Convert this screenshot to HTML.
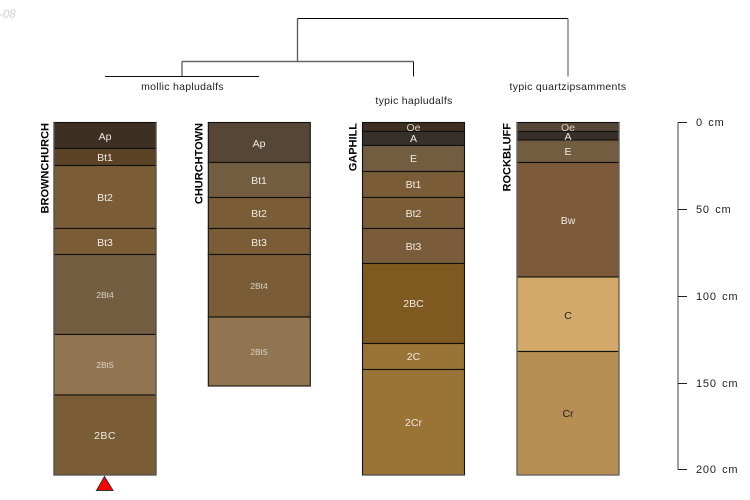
<!DOCTYPE html>
<html><head><meta charset="utf-8">
<style>
html,body{margin:0;padding:0;background:#fff;width:750px;height:500px;overflow:hidden}
svg{display:block}
text{font-family:"Liberation Sans",sans-serif}
</style></head>
<body>
<svg width="750" height="500" viewBox="0 0 750 500" xmlns="http://www.w3.org/2000/svg">
<rect width="750" height="500" fill="#fff"/>
<text x="-1" y="18" font-size="11.5" font-style="italic" fill="#cfcfcf">-08</text>

<g fill="none" stroke-width="1">
<path d="M297.5 18.5H568" stroke="#000"/>
<path d="M297.5 18.5V61.5" stroke="#555" stroke-width="1.3"/>
<path d="M182 61.5H413.5" stroke="#666" stroke-width="1.4"/>
<path d="M182 61.5V76" stroke="#666" stroke-width="1.4"/>
<path d="M413.5 61.5V76.5" stroke="#111"/>
<path d="M568 18.5V76.5" stroke="#777" stroke-width="1.3"/>
<path d="M105 76.5H259" stroke="#111"/>
</g>
<g font-size="10.5" fill="#222" text-anchor="middle" letter-spacing=".3">
<text x="182.5" y="90">mollic hapludalfs</text>
<text x="414" y="104">typic hapludalfs</text>
<text x="568" y="90">typic quartzipsamments</text>
</g>

<g stroke="#111" stroke-width="1.1">
<!-- BROWNCHURCH -->
<rect x="54" y="122.5" width="102" height="26" fill="#3d2f21"/>
<rect x="54" y="148.5" width="102" height="17" fill="#5c4326"/>
<rect x="54" y="165.5" width="102" height="63" fill="#7a5c36"/>
<rect x="54" y="228.5" width="102" height="26" fill="#7a5c36"/>
<rect x="54" y="254.5" width="102" height="80" fill="#735d41"/>
<rect x="54" y="334.5" width="102" height="60.5" fill="#917551"/>
<rect x="54" y="395" width="102" height="80" fill="#7a5c36"/>
<!-- CHURCHTOWN -->
<rect x="208.3" y="122.5" width="102" height="40" fill="#554636"/>
<rect x="208.3" y="162.5" width="102" height="35" fill="#735d41"/>
<rect x="208.3" y="197.5" width="102" height="31" fill="#7a5c36"/>
<rect x="208.3" y="228.5" width="102" height="26" fill="#7a5c36"/>
<rect x="208.3" y="254.5" width="102" height="62.5" fill="#7a5c36"/>
<rect x="208.3" y="317" width="102" height="69" fill="#917551"/>
<!-- GAPHILL -->
<rect x="362.5" y="122.5" width="102" height="9" fill="#3d2f21"/>
<rect x="362.5" y="131.5" width="102" height="14" fill="#362f2a"/>
<rect x="362.5" y="145.5" width="102" height="26" fill="#735d41"/>
<rect x="362.5" y="171.5" width="102" height="26" fill="#7a5c36"/>
<rect x="362.5" y="197.5" width="102" height="31" fill="#7a5c36"/>
<rect x="362.5" y="228.5" width="102" height="35" fill="#7a5c3a"/>
<rect x="362.5" y="263.5" width="102" height="80" fill="#7f5a20"/>
<rect x="362.5" y="343.5" width="102" height="26" fill="#9a7337"/>
<rect x="362.5" y="369.5" width="102" height="105.5" fill="#9a7337"/>
<!-- ROCKBLUFF -->
<rect x="517" y="122.5" width="102" height="9" fill="#554636"/>
<rect x="517" y="131.5" width="102" height="8.5" fill="#362f2a"/>
<rect x="517" y="140" width="102" height="22.5" fill="#735d41"/>
<rect x="517" y="162.5" width="102" height="114.5" fill="#7d5a3a"/>
<rect x="517" y="277" width="102" height="74.5" fill="#d3a96a"/>
<rect x="517" y="351.5" width="102" height="123.5" fill="#b68d52"/>
</g>
<g fill="none" stroke-width="1.3">
<path d="M54 122.5V475H156V122.5" stroke="#555"/>
<path d="M517 122.5V475H619V122.5" stroke="#666"/>
<path d="M362.5 475H464.5" stroke="#555"/>
</g>

<g font-size="10.5" fill="#f0ece4" text-anchor="middle">
<text x="105" y="140">Ap</text>
<text x="105" y="161">Bt1</text>
<text x="105" y="201">Bt2</text>
<text x="105" y="246">Bt3</text>
<text x="105" y="298" font-size="8.5" fill="#d9d3c8">2Bt4</text>
<text x="105" y="368" font-size="8.5" fill="#d9d3c8">2Bt5</text>
<text x="105" y="439" letter-spacing=".4">2BC</text>

<text x="259" y="147">Ap</text>
<text x="259" y="184">Bt1</text>
<text x="259" y="217">Bt2</text>
<text x="259" y="246">Bt3</text>
<text x="259" y="289" font-size="8.5" fill="#d9d3c8">2Bt4</text>
<text x="259" y="355" font-size="8.5" fill="#d9d3c8">2Bt5</text>

<text x="413.5" y="131" fill="#d9d3c8">Oe</text>
<text x="413.5" y="142">A</text>
<text x="413.5" y="162">E</text>
<text x="413.5" y="188">Bt1</text>
<text x="413.5" y="217">Bt2</text>
<text x="413.5" y="250">Bt3</text>
<text x="413.5" y="307">2BC</text>
<text x="413.5" y="360">2C</text>
<text x="413.5" y="426">2Cr</text>

<text x="568" y="131" fill="#d9d3c8">Oe</text>
<text x="568" y="140">A</text>
<text x="568" y="155">E</text>
<text x="568" y="224">Bw</text>
<text x="568" y="319" fill="#222">C</text>
<text x="568" y="417" fill="#222">Cr</text>
</g>

<g font-size="11" font-weight="bold" fill="#000" text-anchor="end">
<text transform="translate(48.5,123) rotate(-90)">BROWNCHURCH</text>
<text transform="translate(202.5,123) rotate(-90)">CHURCHTOWN</text>
<text transform="translate(356.5,123) rotate(-90)">GAPHILL</text>
<text transform="translate(510.5,123) rotate(-90)">ROCKBLUFF</text>
</g>

<path d="M104.5 476.5L113 490.5H96.5Z" fill="#f00" stroke="#333" stroke-width="1"/>

<path d="M678 122.5V469.5" stroke="#808080" stroke-width="1.5" fill="none"/>
<g stroke="#222" stroke-width="1">
<path d="M678 122.5H687M678 209.5H687M678 296.5H687M678 383.5H687M678 469.5H687"/>
</g>
<g font-size="11" fill="#222" letter-spacing=".8" word-spacing="1.5">
<text x="696" y="126">0 cm</text>
<text x="696" y="213">50 cm</text>
<text x="696" y="300">100 cm</text>
<text x="696" y="387">150 cm</text>
<text x="696" y="473">200 cm</text>
</g>
</svg>
</body></html>
